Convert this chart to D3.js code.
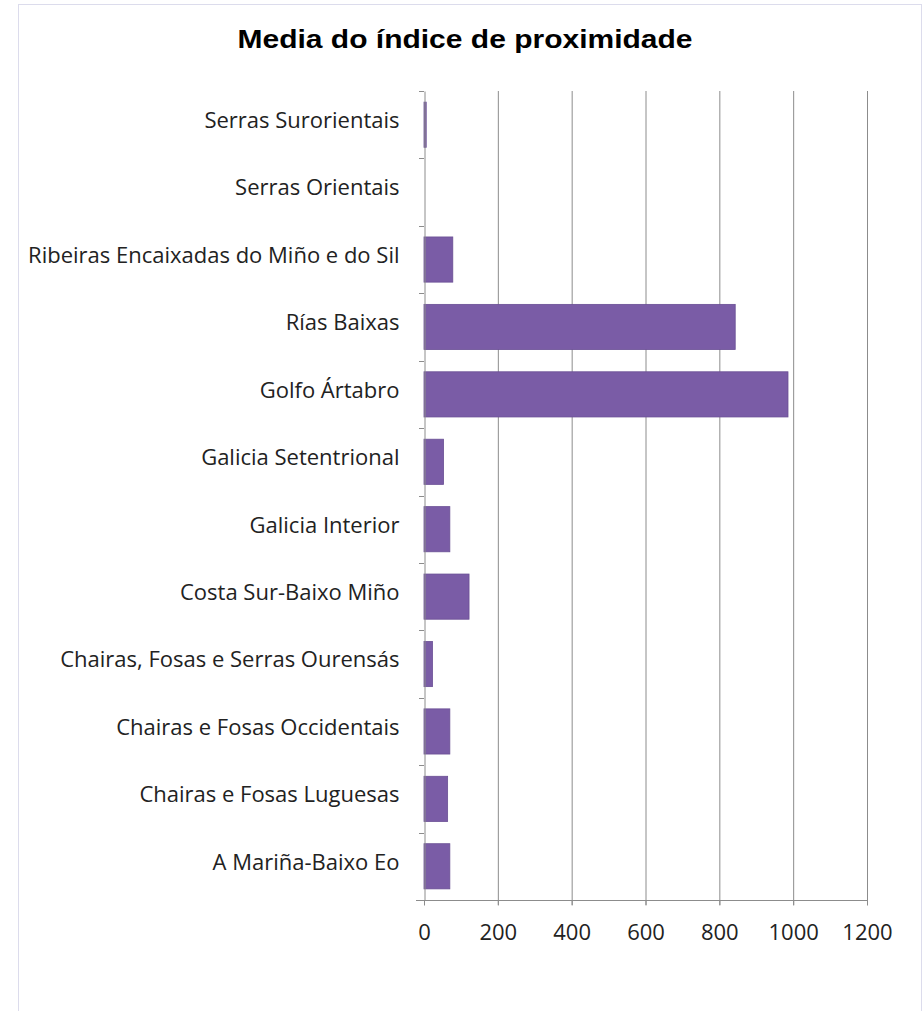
<!DOCTYPE html>
<html><head><meta charset="utf-8">
<script src="https://cdn.jsdelivr.net/npm/d3@7"></script>
<style>body{margin:0;background:#fff;} svg{display:block;}</style>
</head><body>
<script>
const categories = ["Serras Surorientais","Serras Orientais","Ribeiras Encaixadas do Miño e do Sil","Rías Baixas","Golfo Ártabro","Galicia Setentrional","Galicia Interior","Costa Sur-Baixo Miño","Chairas, Fosas e Serras Ourensás","Chairas e Fosas Occidentais","Chairas e Fosas Luguesas","A Mariña-Baixo Eo"];
const values = [6, 0, 78, 843, 986, 53, 70, 122, 23, 70, 64, 70];
const xTicks = [0, 200, 400, 600, 800, 1000, 1200];
const title = "Media do índice de proximidade";

const W = 924, H = 1011;
const svg = d3.select("body").append("svg").attr("width", W).attr("height", H);
svg.append("rect").attr("x",18.5).attr("y",4.5).attr("width",W-21).attr("height",H-2).attr("fill","#fff").attr("stroke","#dcdcec");

const m = {left:424, right:867, top:91, bottom:900};
const x = d3.scaleLinear().domain([0,1200]).range([m.left, m.right]);
const y = d3.scaleBand().domain(categories).range([m.top, m.bottom]).paddingInner(0.33).paddingOuter(0.165);
const font = "'Open Sans', Lato, sans-serif";

// gridlines
svg.append("g").selectAll("line").data(xTicks.slice(1)).join("line")
  .attr("x1",d=>x(d)+0.5).attr("x2",d=>x(d)+0.5).attr("y1",m.top).attr("y2",m.bottom+5)
  .attr("stroke","#8c8c8c").attr("stroke-width",1);

// bars
svg.append("g").selectAll("rect").data(categories).join("rect")
  .attr("x", x(0)).attr("y", d=>y(d))
  .attr("width", (d,i)=>x(values[i])-x(0)).attr("height", y.bandwidth())
  .attr("fill","#7a5ca6").attr("stroke","#6a4f94").attr("stroke-width",0.8);

// y axis
const yAxis = d3.axisLeft(y).tickSize(0).tickPadding(25);
const gy = svg.append("g").attr("transform",`translate(${m.left+0.5},0)`).call(yAxis);
gy.select(".domain").attr("stroke","#8c8c8c");
gy.selectAll("text").attr("font-family",font).attr("font-size","22px").attr("fill","#222").attr("dy","0.15em");
// category boundary ticks
const bounds = d3.range(categories.length+1).map(i => m.top + i*(m.bottom-m.top)/categories.length);
svg.append("g").selectAll("line").data(bounds).join("line")
  .attr("x1",m.left-5).attr("x2",m.left).attr("y1",d=>Math.round(d)+0.5).attr("y2",d=>Math.round(d)+0.5)
  .attr("stroke","#8c8c8c");

// x axis
const xAxis = d3.axisBottom(x).tickValues(xTicks).tickFormat(d3.format("d")).tickSize(5).tickPadding(19).tickSizeOuter(0);
const gx = svg.append("g").attr("transform",`translate(0,${m.bottom+0.5})`).call(xAxis);
gx.select(".domain").attr("stroke","#8c8c8c").attr("d",`M${m.left-8},0H${m.right+0.5}`);
gx.selectAll("line").attr("stroke","#8c8c8c");
gx.selectAll("text").attr("font-family",font).attr("font-size","22px").attr("fill","#222");

// title
svg.append("text").attr("x",465).attr("y",48).attr("text-anchor","middle")
  .attr("font-family","'Liberation Sans', Arial, sans-serif").attr("font-weight","bold").attr("font-size","26px")
  .attr("textLength",455).attr("lengthAdjust","spacingAndGlyphs")
  .attr("fill","#000").text(title);
</script>
</body></html>
